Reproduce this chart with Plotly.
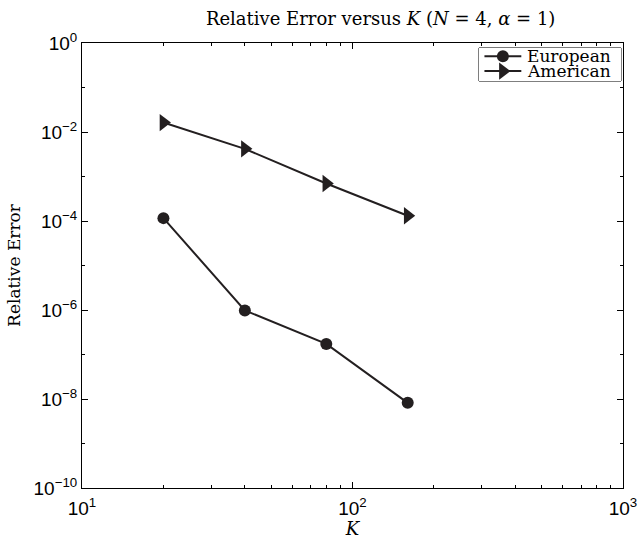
import plotly.graph_objects as go

# Relative error of the European and American prices against K
K = [20, 40, 80, 160]
european_err = [1.16e-4, 9.8e-7, 1.73e-7, 8.2e-9]
american_err = [1.63e-2, 4.18e-3, 6.95e-4, 1.31e-4]
series_names = ["European", "American"]
series_symbols = ["circle", "triangle-right"]
series_sizes = [12, 15]

x_major = [10, 100, 1000]
x_labels = ["10<sup>1</sup>", "10<sup>2</sup>", "10<sup>3</sup>"]
x_minor = [20, 30, 40, 50, 60, 70, 80, 90, 200, 300, 400, 500, 600, 700, 800, 900]

y_major = [1e-10, 1e-8, 1e-6, 1e-4, 1e-2, 1]
y_labels = ["10<sup>\u221210</sup>", "10<sup>\u22128</sup>", "10<sup>\u22126</sup>",
            "10<sup>\u22124</sup>", "10<sup>\u22122</sup>", "10<sup>0</sup>"]
y_minor = [1e-9, 1e-7, 1e-5, 1e-3, 1e-1]

INK = "#231f20"
SERIF = "DejaVu Serif"
SANS = "Liberation Sans"

fig = go.Figure()
for name, vals, sym, sz in zip(series_names, [european_err, american_err],
                               series_symbols, series_sizes):
    fig.add_trace(go.Scatter(
        x=K, y=vals, name=name, mode="lines+markers", showlegend=False,
        line=dict(color=INK, width=2),
        marker=dict(symbol=sym, size=sz, color=INK),
    ))

# Boxed key in the upper-right corner, drawn on its own small unit axes
key_x0, key_x1, key_mark = 0.0, 0.27, 0.135
key_rows = [0.90, 0.36]
for name, sym, sz, row in zip(series_names, series_symbols, series_sizes, key_rows):
    fig.add_trace(go.Scatter(
        x=[key_x0, key_x1], y=[row, row], mode="lines", showlegend=False,
        xaxis="x2", yaxis="y2", hoverinfo="skip",
        line=dict(color=INK, width=2),
    ))
    fig.add_trace(go.Scatter(
        x=[key_mark], y=[row], mode="markers", showlegend=False,
        xaxis="x2", yaxis="y2", hoverinfo="skip",
        marker=dict(symbol=sym, size=sz, color=INK),
    ))
    fig.add_annotation(
        x=0.3, y=row, xref="x2", yref="y2", text=name, showarrow=False,
        xanchor="left", yanchor="middle",
        font=dict(family=SERIF, size=17, color="black"),
    )

axis_common = dict(
    type="log", showline=True, linecolor="black", linewidth=1,
    mirror="ticks", ticks="inside", ticklen=6, tickcolor="black",
    showgrid=False, zeroline=False, tickmode="array", automargin=False,
    tickfont=dict(family=SANS, size=19, color="black"),
)

KEY_X = [0.7338, 0.9963]
KEY_Y = [0.9146, 0.9888]

fig.update_layout(
    width=638, height=539,
    margin=dict(l=82, r=15, t=43, b=51),
    paper_bgcolor="white", plot_bgcolor="white",
    title=dict(
        text="Relative Error versus <i>K</i> (<i>N</i> = 4, <i>\u03b1</i> = 1)",
        font=dict(family=SERIF, size=18, color="black"),
        x=0.552, xref="paper", xanchor="center", y=0.966, yanchor="middle",
    ),
    xaxis=dict(
        axis_common, range=[1, 3], tickvals=x_major, ticktext=x_labels,
        ticklabelstandoff=3,
        minor=dict(tickmode="array", tickvals=x_minor, ticks="inside", ticklen=3,
                   tickcolor="black", showgrid=False),
        title=dict(text="<i>K</i>", font=dict(family=SERIF, size=18, color="black"),
                   standoff=0),
    ),
    yaxis=dict(
        axis_common, range=[-10, 0], tickvals=y_major, ticktext=y_labels,
        minor=dict(tickmode="array", tickvals=y_minor, ticks="inside", ticklen=3,
                   tickcolor="black", showgrid=False),
        title=dict(text="Relative Error", font=dict(family=SERIF, size=17, color="black"),
                   standoff=8),
    ),
    xaxis2=dict(domain=KEY_X, range=[-0.04, 1.0], anchor="y2",
                visible=False, fixedrange=True),
    yaxis2=dict(domain=KEY_Y, range=[0, 1.2], anchor="x2",
                visible=False, fixedrange=True),
    shapes=[dict(
        type="rect", xref="paper", yref="paper",
        x0=KEY_X[0], x1=KEY_X[1], y0=KEY_Y[0], y1=KEY_Y[1],
        line=dict(color="black", width=1), fillcolor="white", layer="below",
    )],
)

fig.write_html("out.html")
